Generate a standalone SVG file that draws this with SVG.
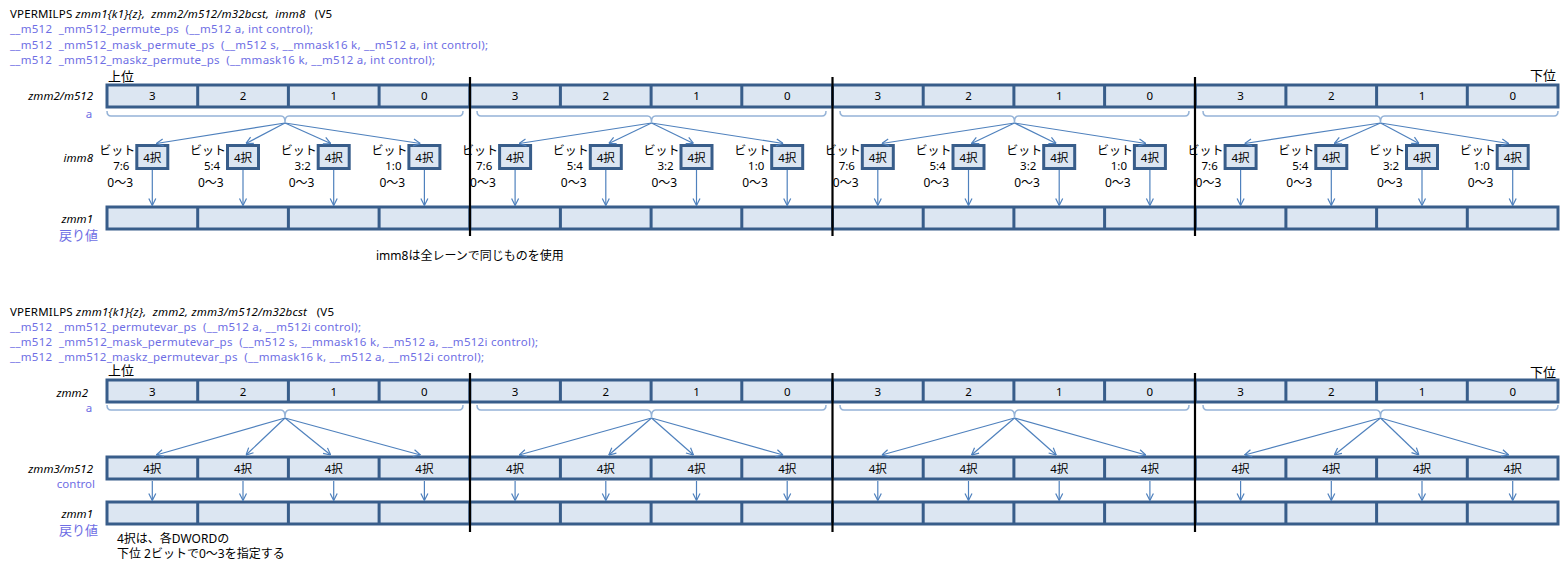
<svg xmlns="http://www.w3.org/2000/svg" xmlns:xlink="http://www.w3.org/1999/xlink" width="1566" height="569" viewBox="0 0 1566 569">
<style>
text{font-family:"Noto Sans","Noto Sans CJK JP",sans-serif;font-size:11.5px;fill:#000;white-space:pre}
.p{fill:#6E6EE4}
.i{font-style:italic}
.n{text-anchor:middle;font-size:11.5px}
.b{font-size:11px}
.z{font-size:12px}
.e{text-anchor:end}
.m{text-anchor:middle}
.cell{fill:#DCE6F2;stroke:#385D8A;stroke-width:3}
.div{stroke:#385D8A;stroke-width:3}
.lane{stroke:#000;stroke-width:2.2}
.brace{fill:none;stroke:#95B3D7;stroke-width:1.5}
.ar{fill:none;stroke:#4F81BD;stroke-width:1.2;marker-end:url(#ah)}
.jp{font-size:12px}
.hl{font-size:13px}
</style>
<defs>
<marker id="ah" viewBox="0 0 10 10" refX="10" refY="5" markerWidth="10" markerHeight="10" markerUnits="userSpaceOnUse" orient="auto">
<path d="M3,1.5 L10,5 L3,8.5" fill="none" stroke="#4F81BD" stroke-width="1.2"/>
</marker>
<g id="reg">
<rect class="cell" x="107" y="0" width="1451" height="22"/>
<path class="div" d="M197.7,0V22M288.4,0V22M379.1,0V22M469.8,0V22M560.4,0V22M651.1,0V22M741.8,0V22M832.5,0V22M923.2,0V22M1013.9,0V22M1104.6,0V22M1195.3,0V22M1285.9,0V22M1376.6,0V22M1467.3,0V22"/>
</g>
<rect id="sbox" class="cell" x="-15.5" y="145.5" width="31" height="23"/>
</defs>

<!-- ===== Top section ===== -->
<g id="title1">
<text x="10" y="18" textLength="322" lengthAdjust="spacing">VPERMILPS <tspan class="i">zmm1{k1}{z},  zmm2/m512/m32bcst,  imm8</tspan>   (V5</text>
<text class="p" x="10" y="33" textLength="303" lengthAdjust="spacing">__m512  _mm512_permute_ps  (__m512 a, int control);</text>
<text class="p" x="10" y="49" textLength="478" lengthAdjust="spacing">__m512  _mm512_mask_permute_ps  (__m512 s, __mmask16 k, __m512 a, int control);</text>
<text class="p" x="10" y="64" textLength="425" lengthAdjust="spacing">__m512  _mm512_maskz_permute_ps  (__mmask16 k, __m512 a, int control);</text>
</g>
<g id="labels1">
<text class="hl" x="108" y="81">上位</text>
<text class="hl e" x="1556" y="80">下位</text>
<text class="i e" x="93" y="100">zmm2/m512</text>
<text class="p m" x="89" y="118">a</text>
<text class="i e" x="93" y="162">imm8</text>
<text class="i e" x="93" y="223">zmm1</text>
<text class="p e hl" x="98" y="240">戻り値</text>
<text class="jp" x="376" y="260">imm8は全レーンで同じものを使用</text>
</g>

<g id="regA1">
<use href="#reg" y="85"/>
<text class="n" x="152.3" y="100">3</text><text class="n" x="243" y="100">2</text><text class="n" x="333.7" y="100">1</text><text class="n" x="424.4" y="100">0</text>
<text class="n" x="515.1" y="100">3</text><text class="n" x="605.8" y="100">2</text><text class="n" x="696.5" y="100">1</text><text class="n" x="787.2" y="100">0</text>
<text class="n" x="877.8" y="100">3</text><text class="n" x="968.5" y="100">2</text><text class="n" x="1059.2" y="100">1</text><text class="n" x="1149.9" y="100">0</text>
<text class="n" x="1240.6" y="100">3</text><text class="n" x="1331.3" y="100">2</text><text class="n" x="1422" y="100">1</text><text class="n" x="1512.7" y="100">0</text>
</g>

<g id="imm8">
<use href="#sbox" x="152.3"/><use href="#sbox" x="243"/><use href="#sbox" x="333.7"/><use href="#sbox" x="424.4"/>
<use href="#sbox" x="515.1"/><use href="#sbox" x="605.8"/><use href="#sbox" x="696.5"/><use href="#sbox" x="787.2"/>
<use href="#sbox" x="877.8"/><use href="#sbox" x="968.5"/><use href="#sbox" x="1059.2"/><use href="#sbox" x="1149.9"/>
<use href="#sbox" x="1240.6"/><use href="#sbox" x="1331.3"/><use href="#sbox" x="1422"/><use href="#sbox" x="1512.7"/>
<g class="hl">
<text class="m" x="152.3" y="162">4択</text><text class="m" x="243" y="162">4択</text><text class="m" x="333.7" y="162">4択</text><text class="m" x="424.4" y="162">4択</text>
<text class="m" x="515.1" y="162">4択</text><text class="m" x="605.8" y="162">4択</text><text class="m" x="696.5" y="162">4択</text><text class="m" x="787.2" y="162">4択</text>
<text class="m" x="877.8" y="162">4択</text><text class="m" x="968.5" y="162">4択</text><text class="m" x="1059.2" y="162">4択</text><text class="m" x="1149.9" y="162">4択</text>
<text class="m" x="1240.6" y="162">4択</text><text class="m" x="1331.3" y="162">4択</text><text class="m" x="1422" y="162">4択</text><text class="m" x="1512.7" y="162">4択</text>
</g>
<g class="b">
<text class="e z" x="135.3" y="155">ビット</text><text class="e z" x="226" y="155">ビット</text><text class="e z" x="316.7" y="155">ビット</text><text class="e z" x="407.4" y="155">ビット</text>
<text class="e z" x="498.1" y="155">ビット</text><text class="e z" x="588.8" y="155">ビット</text><text class="e z" x="679.5" y="155">ビット</text><text class="e z" x="770.2" y="155">ビット</text>
<text class="e z" x="860.8" y="155">ビット</text><text class="e z" x="951.5" y="155">ビット</text><text class="e z" x="1042.2" y="155">ビット</text><text class="e z" x="1132.9" y="155">ビット</text>
<text class="e z" x="1223.6" y="155">ビット</text><text class="e z" x="1314.3" y="155">ビット</text><text class="e z" x="1405" y="155">ビット</text><text class="e z" x="1495.7" y="155">ビット</text>
<text class="m" x="121.3" y="170">7:6</text><text class="m" x="212" y="170">5:4</text><text class="m" x="302.7" y="170">3:2</text><text class="m" x="393.4" y="170">1:0</text>
<text class="m" x="484.1" y="170">7:6</text><text class="m" x="574.8" y="170">5:4</text><text class="m" x="665.5" y="170">3:2</text><text class="m" x="756.2" y="170">1:0</text>
<text class="m" x="846.8" y="170">7:6</text><text class="m" x="937.5" y="170">5:4</text><text class="m" x="1028.2" y="170">3:2</text><text class="m" x="1118.9" y="170">1:0</text>
<text class="m" x="1209.6" y="170">7:6</text><text class="m" x="1300.3" y="170">5:4</text><text class="m" x="1391" y="170">3:2</text><text class="m" x="1481.7" y="170">1:0</text>
<text class="z" x="107.3" y="187">0〜3</text><text class="z" x="198" y="187">0〜3</text><text class="z" x="288.7" y="187">0〜3</text><text class="z" x="379.4" y="187">0〜3</text>
<text class="z" x="470.1" y="187">0〜3</text><text class="z" x="560.8" y="187">0〜3</text><text class="z" x="651.5" y="187">0〜3</text><text class="z" x="742.2" y="187">0〜3</text>
<text class="z" x="832.8" y="187">0〜3</text><text class="z" x="923.5" y="187">0〜3</text><text class="z" x="1014.2" y="187">0〜3</text><text class="z" x="1104.9" y="187">0〜3</text>
<text class="z" x="1195.6" y="187">0〜3</text><text class="z" x="1286.3" y="187">0〜3</text><text class="z" x="1377" y="187">0〜3</text><text class="z" x="1467.7" y="187">0〜3</text>
</g>
</g>

<g id="zmm1top">
<use href="#reg" y="207"/>
</g>

<g id="connectors1">
<path class="brace" d="M107,111 Q107,116 111,116 H281 Q285,116 285,122 Q285,116 289,116 H459 Q463,116 463,111"/>
<path class="brace" d="M477,111 Q477,116 481,116 H647.5 Q651.5,116 651.5,122 Q651.5,116 655.5,116 H822 Q826,116 826,111"/>
<path class="brace" d="M840,111 Q840,116 844,116 H1010.5 Q1014.5,116 1014.5,122 Q1014.5,116 1018.5,116 H1185 Q1189,116 1189,111"/>
<path class="brace" d="M1203,111 Q1203,116 1207,116 H1376.5 Q1380.5,116 1380.5,122 Q1380.5,116 1384.5,116 H1554 Q1558,116 1558,111"/>
<path class="ar" d="M285,123 L156.3,143.5"/><path class="ar" d="M285,123 L246,143.5"/><path class="ar" d="M285,123 L330.7,143.5"/><path class="ar" d="M285,123 L420.4,143.5"/>
<path class="ar" d="M651.5,123 L519.1,143.5"/><path class="ar" d="M651.5,123 L608.8,143.5"/><path class="ar" d="M651.5,123 L693.5,143.5"/><path class="ar" d="M651.5,123 L783.2,143.5"/>
<path class="ar" d="M1014.5,123 L881.8,143.5"/><path class="ar" d="M1014.5,123 L971.5,143.5"/><path class="ar" d="M1014.5,123 L1056.2,143.5"/><path class="ar" d="M1014.5,123 L1145.9,143.5"/>
<path class="ar" d="M1380.5,123 L1244.6,143.5"/><path class="ar" d="M1380.5,123 L1334.3,143.5"/><path class="ar" d="M1380.5,123 L1419,143.5"/><path class="ar" d="M1380.5,123 L1508.7,143.5"/>
<path class="ar" d="M152.3,170V205.5"/><path class="ar" d="M243,170V205.5"/><path class="ar" d="M333.7,170V205.5"/><path class="ar" d="M424.4,170V205.5"/>
<path class="ar" d="M515.1,170V205.5"/><path class="ar" d="M605.8,170V205.5"/><path class="ar" d="M696.5,170V205.5"/><path class="ar" d="M787.2,170V205.5"/>
<path class="ar" d="M877.8,170V205.5"/><path class="ar" d="M968.5,170V205.5"/><path class="ar" d="M1059.2,170V205.5"/><path class="ar" d="M1149.9,170V205.5"/>
<path class="ar" d="M1240.6,170V205.5"/><path class="ar" d="M1331.3,170V205.5"/><path class="ar" d="M1422,170V205.5"/><path class="ar" d="M1512.7,170V205.5"/>
<path class="lane" d="M470,77V236M832.5,77V236M1195,77V236"/>
</g>

<!-- ===== Bottom section ===== -->
<g id="title2">
<text x="10" y="316" textLength="324" lengthAdjust="spacing">VPERMILPS <tspan class="i">zmm1{k1}{z},  zmm2, zmm3/m512/m32bcst</tspan>   (V5</text>
<text class="p" x="10" y="331" textLength="351" lengthAdjust="spacing">__m512  _mm512_permutevar_ps  (__m512 a, __m512i control);</text>
<text class="p" x="10" y="346" textLength="528" lengthAdjust="spacing">__m512  _mm512_mask_permutevar_ps  (__m512 s, __mmask16 k, __m512 a, __m512i control);</text>
<text class="p" x="10" y="361" textLength="474" lengthAdjust="spacing">__m512  _mm512_maskz_permutevar_ps  (__mmask16 k, __m512 a, __m512i control);</text>
</g>
<g id="labels2">
<text class="hl" x="108" y="375">上位</text>
<text class="hl e" x="1556" y="377">下位</text>
<text class="i e" x="88" y="397">zmm2</text>
<text class="p m" x="89" y="412">a</text>
<text class="i e" x="93" y="473">zmm3/m512</text>
<text class="p e" x="95" y="488">control</text>
<text class="i e" x="93" y="518">zmm1</text>
<text class="p e hl" x="98" y="535">戻り値</text>
<text class="jp" x="117" y="543">4択は、各DWORDの</text>
<text class="jp" x="117" y="558">下位 2ビットで0〜3を指定する</text>
</g>

<g id="regA2">
<use href="#reg" y="380"/>
<text class="n" x="152.3" y="396">3</text><text class="n" x="243" y="396">2</text><text class="n" x="333.7" y="396">1</text><text class="n" x="424.4" y="396">0</text>
<text class="n" x="515.1" y="396">3</text><text class="n" x="605.8" y="396">2</text><text class="n" x="696.5" y="396">1</text><text class="n" x="787.2" y="396">0</text>
<text class="n" x="877.8" y="396">3</text><text class="n" x="968.5" y="396">2</text><text class="n" x="1059.2" y="396">1</text><text class="n" x="1149.9" y="396">0</text>
<text class="n" x="1240.6" y="396">3</text><text class="n" x="1331.3" y="396">2</text><text class="n" x="1422" y="396">1</text><text class="n" x="1512.7" y="396">0</text>
</g>

<g id="zmm3">
<use href="#reg" y="457"/>
<g class="hl">
<text class="m" x="152.3" y="473">4択</text><text class="m" x="243" y="473">4択</text><text class="m" x="333.7" y="473">4択</text><text class="m" x="424.4" y="473">4択</text>
<text class="m" x="515.1" y="473">4択</text><text class="m" x="605.8" y="473">4択</text><text class="m" x="696.5" y="473">4択</text><text class="m" x="787.2" y="473">4択</text>
<text class="m" x="877.8" y="473">4択</text><text class="m" x="968.5" y="473">4択</text><text class="m" x="1059.2" y="473">4択</text><text class="m" x="1149.9" y="473">4択</text>
<text class="m" x="1240.6" y="473">4択</text><text class="m" x="1331.3" y="473">4択</text><text class="m" x="1422" y="473">4択</text><text class="m" x="1512.7" y="473">4択</text>
</g>
</g>

<g id="zmm1bottom">
<use href="#reg" y="502"/>
</g>

<g id="connectors2">
<path class="brace" d="M107,405 Q107,410 111,410 H281 Q285,410 285,417 Q285,410 289,410 H459 Q463,410 463,405"/>
<path class="brace" d="M477,405 Q477,410 481,410 H647.5 Q651.5,410 651.5,417 Q651.5,410 655.5,410 H822 Q826,410 826,405"/>
<path class="brace" d="M840,405 Q840,410 844,410 H1010.5 Q1014.5,410 1014.5,417 Q1014.5,410 1018.5,410 H1185 Q1189,410 1189,405"/>
<path class="brace" d="M1203,405 Q1203,410 1207,410 H1376.5 Q1380.5,410 1380.5,417 Q1380.5,410 1384.5,410 H1554 Q1558,410 1558,405"/>
<path class="ar" d="M285,418 L156.3,455"/><path class="ar" d="M285,418 L246,455"/><path class="ar" d="M285,418 L330.7,455"/><path class="ar" d="M285,418 L420.4,455"/>
<path class="ar" d="M651.5,418 L519.1,455"/><path class="ar" d="M651.5,418 L608.8,455"/><path class="ar" d="M651.5,418 L693.5,455"/><path class="ar" d="M651.5,418 L783.2,455"/>
<path class="ar" d="M1014.5,418 L881.8,455"/><path class="ar" d="M1014.5,418 L971.5,455"/><path class="ar" d="M1014.5,418 L1056.2,455"/><path class="ar" d="M1014.5,418 L1145.9,455"/>
<path class="ar" d="M1380.5,418 L1244.6,455"/><path class="ar" d="M1380.5,418 L1334.3,455"/><path class="ar" d="M1380.5,418 L1419,455"/><path class="ar" d="M1380.5,418 L1508.7,455"/>
<path class="ar" d="M152.3,481V500.5"/><path class="ar" d="M243,481V500.5"/><path class="ar" d="M333.7,481V500.5"/><path class="ar" d="M424.4,481V500.5"/>
<path class="ar" d="M515.1,481V500.5"/><path class="ar" d="M605.8,481V500.5"/><path class="ar" d="M696.5,481V500.5"/><path class="ar" d="M787.2,481V500.5"/>
<path class="ar" d="M877.8,481V500.5"/><path class="ar" d="M968.5,481V500.5"/><path class="ar" d="M1059.2,481V500.5"/><path class="ar" d="M1149.9,481V500.5"/>
<path class="ar" d="M1240.6,481V500.5"/><path class="ar" d="M1331.3,481V500.5"/><path class="ar" d="M1422,481V500.5"/><path class="ar" d="M1512.7,481V500.5"/>
<path class="lane" d="M470,373V532M832.5,373V532M1195,373V532"/>
</g>
</svg>
